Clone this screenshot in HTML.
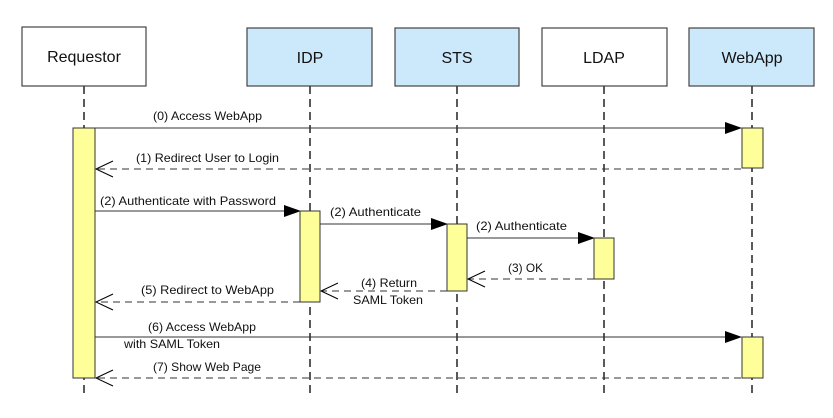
<!DOCTYPE html>
<html><head><meta charset="utf-8"><style>
html,body{margin:0;padding:0;background:#fff;}
svg{display:block;font-family:"Liberation Sans",sans-serif;}
</style></head><body>
<svg width="833" height="418" viewBox="0 0 833 418" xmlns="http://www.w3.org/2000/svg">
<g stroke="#000" stroke-width="1.3" stroke-dasharray="8,5" fill="none">
<line x1="84" y1="86" x2="84" y2="398"/>
<line x1="310" y1="86" x2="310" y2="398"/>
<line x1="457" y1="86" x2="457" y2="398"/>
<line x1="604" y1="86" x2="604" y2="398"/>
<line x1="752" y1="86" x2="752" y2="398"/>
</g>
<g stroke="#444" stroke-width="1.2">
<rect x="22" y="27" width="124" height="59" fill="#fff"/>
<rect x="247" y="28" width="125" height="58" fill="#cce9fb"/>
<rect x="395" y="28" width="124" height="58" fill="#cce9fb"/>
<rect x="542" y="28" width="125" height="58" fill="#fff"/>
<rect x="689" y="28" width="125" height="58" fill="#cce9fb"/>
</g>
<g font-size="16" text-anchor="middle" fill="#111">
<text x="84" y="62">Requestor</text>
<text x="310" y="63">IDP</text>
<text x="457" y="63">STS</text>
<text x="604" y="63">LDAP</text>
<text x="752" y="63">WebApp</text>
</g>
<g stroke="#333" stroke-width="1" fill="none">
<line x1="95" y1="128" x2="726" y2="128"/>
<line x1="741" y1="169" x2="96" y2="169" stroke-dasharray="7,5"/>
<line x1="95" y1="211" x2="285" y2="211"/>
<line x1="320" y1="224" x2="432" y2="224"/>
<line x1="467" y1="238" x2="579" y2="238"/>
<line x1="594" y1="279" x2="468" y2="279" stroke-dasharray="7,5"/>
<line x1="447" y1="291" x2="321" y2="291" stroke-dasharray="7,5"/>
<line x1="300" y1="302" x2="96" y2="302" stroke-dasharray="7,5"/>
<line x1="95" y1="337" x2="726" y2="337"/>
<line x1="741" y1="378" x2="96" y2="378" stroke-dasharray="7,5"/>
</g>
<g fill="#000">
<path d="M725,122 L742,128 L725,134 Z"/>
<path d="M284,205 L301,211 L284,217 Z"/>
<path d="M431,218 L448,224 L431,230 Z"/>
<path d="M578,232 L595,238 L578,244 Z"/>
<path d="M725,331 L742,337 L725,343 Z"/>
</g>
<g stroke="#000" stroke-width="1" fill="none">
<path d="M113,161 L96,169 L113,177"/>
<path d="M485,271 L468,279 L485,287"/>
<path d="M338,283 L321,291 L338,299"/>
<path d="M113,294 L96,302 L113,310"/>
<path d="M113,370 L96,378 L113,386"/>
</g>
<g stroke="#333" stroke-width="1" fill="#ffff99">
<rect x="73" y="128" width="22" height="250"/>
<rect x="742" y="128" width="21" height="40"/>
<rect x="742" y="337" width="21" height="41"/>
<rect x="300" y="211" width="20" height="91"/>
<rect x="447" y="224" width="20" height="67"/>
<rect x="594" y="238" width="20" height="41"/>
</g>
<g font-size="12" fill="#111" lengthAdjust="spacingAndGlyphs">
<text x="153" y="120" textLength="109" lengthAdjust="spacingAndGlyphs">(0) Access WebApp</text>
<text x="136" y="162" textLength="143" lengthAdjust="spacingAndGlyphs">(1) Redirect User to Login</text>
<text x="100" y="205" textLength="176" lengthAdjust="spacingAndGlyphs">(2) Authenticate with Password</text>
<text x="330" y="216" textLength="91" lengthAdjust="spacingAndGlyphs">(2) Authenticate</text>
<text x="476" y="230" textLength="91" lengthAdjust="spacingAndGlyphs">(2) Authenticate</text>
<text x="508" y="272" textLength="35" lengthAdjust="spacingAndGlyphs">(3) OK</text>
<text x="361" y="287" textLength="56" lengthAdjust="spacingAndGlyphs">(4) Return</text>
<text x="353" y="304" textLength="70" lengthAdjust="spacingAndGlyphs">SAML Token</text>
<text x="141" y="294" textLength="133" lengthAdjust="spacingAndGlyphs">(5) Redirect to WebApp</text>
<text x="148" y="331" textLength="108" lengthAdjust="spacingAndGlyphs">(6) Access WebApp</text>
<text x="124" y="348" textLength="96" lengthAdjust="spacingAndGlyphs">with SAML Token</text>
<text x="153" y="371" textLength="108" lengthAdjust="spacingAndGlyphs">(7) Show Web Page</text>
</g>
</svg>
</body></html>
